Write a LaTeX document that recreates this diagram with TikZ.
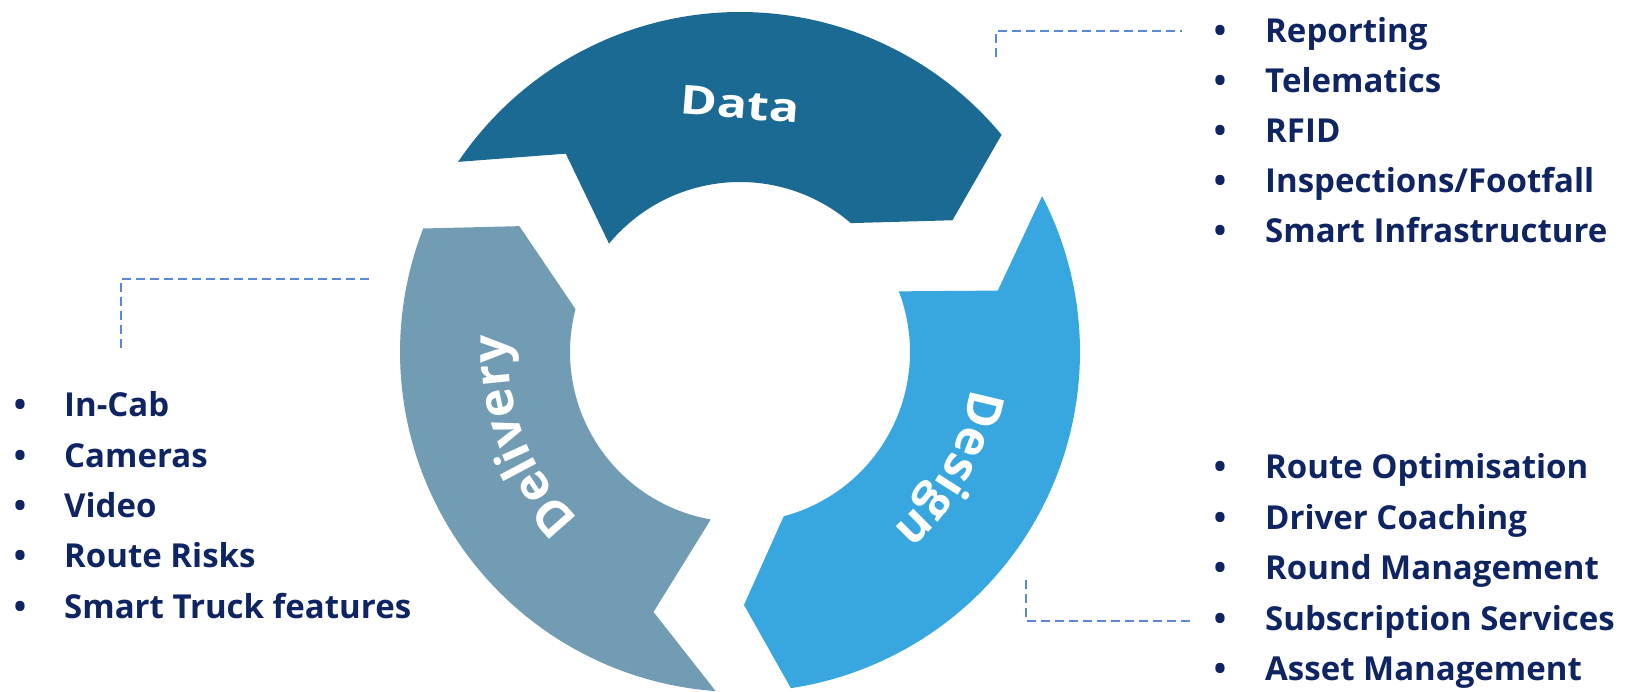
\documentclass[tikz,border=0pt]{standalone}
\usepackage{fontspec}
\setmainfont{Open Sans}
\usetikzlibrary{decorations.text}
\definecolor{datacol}{HTML}{1B6A94}
\definecolor{designcol}{HTML}{38A7DF}
\definecolor{delivcol}{HTML}{729CB3}
\definecolor{navy}{HTML}{0F2563}
\definecolor{dashcol}{HTML}{5A87D9}
\newcommand\segfont{\fontsize{49}{56}\selectfont\bfseries\color{white}}
\begin{document}
\begin{tikzpicture}[x=1pt,y=1pt,
  item/.style={anchor=base west, inner sep=0pt, font=\fontsize{33}{38}\selectfont\bfseries, text=navy},
  bul/.style={anchor=base, inner sep=0pt, font=\fontsize{33}{38}\selectfont\bfseries, text=navy},
  leader/.style={draw=dashcol, line width=1.3pt, dash pattern=on 9pt off 5pt}]
\useasboundingbox (0,0) rectangle (1627,692);
\begin{scope}[shift={(740,340)}]
  % Data segment
  \fill[datacol] (39.7:340) arc[start angle=39.7, end angle=146, radius=340]
     -- (131.3:264) -- (140.4:170) arc[start angle=140.4, end angle=49.3, radius=170]
     -- (31.8:250) -- cycle;
  % Design segment
  \fill[designcol] (27.3:340) arc[start angle=27.3, end angle=-81.4, radius=340]
     -- (-89.1:253) -- (-75.1:170) arc[start angle=-75.1, end angle=20.9, radius=170]
     -- (13.4:265) -- cycle;
  % Delivery segment
  \fill[delivcol] (158.7:340) arc[start angle=158.7, end angle=265.9, radius=340]
     -- (251.6:274) -- (260.1:170) arc[start angle=260.1, end angle=165.4, radius=170]
     -- (150.3:254) -- cycle;
  % labels
  \node[text=white, font=\fontsize{40}{48}\selectfont\bfseries, rotate=-4.5, xscale=1.25, inner sep=0pt] (datalbl) at (0,247.5) {Data};
  \path[decorate, decoration={text along path, text={|\segfont|Delivery}, text align=center}]
     (241:232) arc[start angle=241, end angle=161, radius=232];
  \path[decorate, decoration={text along path, text={|\segfont|Design}, text align=center}]
     (16:234) arc[start angle=16, end angle=-74, radius=234];
\end{scope}
% leaders
\coordinate (ta) at (996,635); \coordinate (tb) at (1182,661);
\coordinate (la) at (121,344); \coordinate (lb) at (370,413);
\coordinate (ba) at (1026,112); \coordinate (bb) at (1192,71);
\draw[leader] (ta) |- (tb);
\draw[leader] (la) |- (lb);
\draw[leader] (ba) |- (bb);
% lists
\foreach \t [count=\i] in {Reporting, Telematics, RFID, Inspections/Footfall, Smart Infrastructure} {
  \node[bul] (rtb\i) at (1220, {649-50*(\i-1)}) {•};
  \node[item] (rt\i) at (1265, {649-50*(\i-1)}) {\t};
}
\foreach \t [count=\i] in {Route Optimisation, Driver Coaching, Round Management, Subscription Services, Asset Management} {
  \node[bul] (rbb\i) at (1220, {213-50.5*(\i-1)}) {•};
  \node[item] (rb\i) at (1265, {213-50.5*(\i-1)}) {\t};
}
\foreach \t [count=\i] in {In-Cab, Cameras, Video, Route Risks, Smart Truck features} {
  \node[bul] (lb\i) at (20, {275-50.3*(\i-1)}) {•};
  \node[item] (li\i) at (64, {275-50.3*(\i-1)}) {\t};
}
\end{tikzpicture}
\end{document}
